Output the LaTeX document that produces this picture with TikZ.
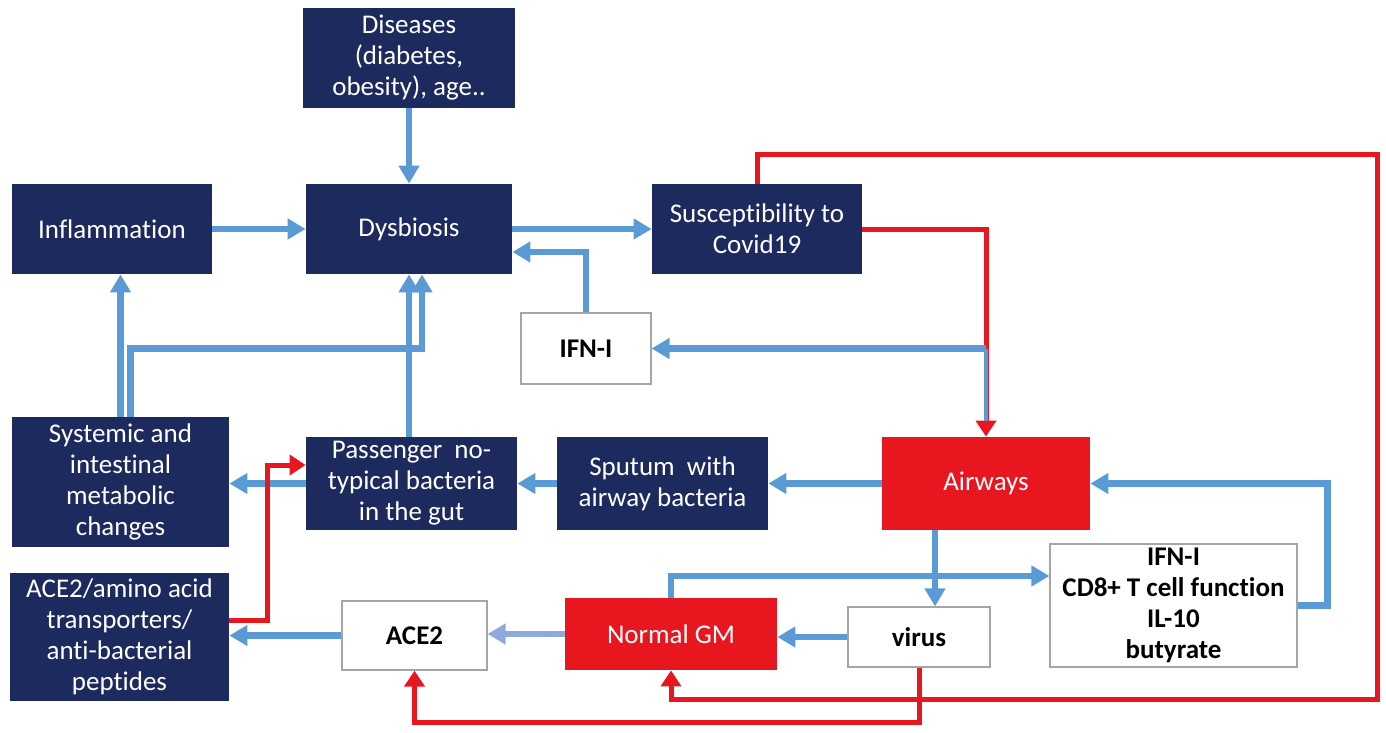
\documentclass[tikz,border=0pt]{standalone}
\usepackage{fontspec}
\setmainfont{Carlito}[Ligatures=NoCommon]
\usepackage{xcolor}
\usetikzlibrary{arrows.meta}
\definecolor{navy}{HTML}{1C2A5E}
\definecolor{gmred}{HTML}{E8161E}
\definecolor{arrblue}{HTML}{5B9BD5}
\definecolor{paleblue}{HTML}{8EA9DB}
\definecolor{boxgray}{HTML}{A5A5A5}

\begin{document}
\begin{tikzpicture}[x=0.5pt,y=-0.5pt,
  font=\fontsize{13.5}{15.5}\selectfont,
  box/.style={rectangle, fill=navy, text=white, align=center, inner sep=0pt},
  redbox/.style={rectangle, fill=gmred, text=white, align=center, inner sep=0pt},
  wbox/.style={rectangle, draw=boxgray, line width=0.6pt, fill=white, align=center, inner sep=0pt, font=\fontsize{13.5}{15.5}\selectfont\bfseries},
  bluearr/.style={draw=arrblue, line width=3.25pt, -{Triangle[width=10pt,length=9pt]}},
  redarr/.style={draw=gmred, line width=2.5pt, -{Triangle[width=10pt,length=8pt]}}]
  \useasboundingbox (0,0) rectangle (1386,733);

  \node[box, minimum width=106pt, minimum height=50pt] (dis) at (409,58) {Diseases\\(diabetes,\\obesity), age..};
  \node[box, minimum width=100pt, minimum height=45pt] (infl) at (112,229) {Inflammation};
  \node[box, minimum width=103pt, minimum height=45pt] (dysb) at (409,229) {Dysbiosis};
  \node[box, minimum width=105pt, minimum height=45pt] (susc) at (757,229) {Susceptibility to\\Covid19};
  \node[wbox, minimum width=65pt, minimum height=35.5pt] (ifn) at (586,348.5) {IFN-I};
  \node[box, minimum width=108.5pt, minimum height=65pt] (syst) at (120.5,482) {Systemic and\\intestinal\\metabolic\\changes};
  \node[box, minimum width=105.5pt, minimum height=46.5pt] (pass) at (411.5,483.5) {Passenger\ \ no-\\typical bacteria\\in the gut};
  \node[box, minimum width=105.5pt, minimum height=46.5pt] (sput) at (662.5,483.5) {Sputum\ \ with\\airway bacteria};
  \node[redbox, minimum width=104pt, minimum height=46.5pt] (airw) at (986,483.5) {Airways};
  \node[box, minimum width=109.5pt, minimum height=64pt] (acea) at (119.5,637) {ACE2/amino acid\\transporters/\\anti-bacterial\\peptides};
  \node[wbox, minimum width=72.5pt, minimum height=34.5pt] (ace) at (414.5,635.5) {ACE2};
  \node[redbox, minimum width=106pt, minimum height=36pt] (ngm) at (671,634) {Normal GM};
  \node[wbox, minimum width=71pt, minimum height=30pt] (vir) at (919,637) {virus};
  \node[wbox, minimum width=123.5pt, minimum height=61.5pt] (cd8) at (1173.5,605.5) {IFN-I\\CD8+ T cell function\\IL-10\\butyrate};

  \draw[bluearr] (dis) -- (dysb);
  \draw[bluearr] (infl) -- (dysb);
  \draw[bluearr] (dysb) -- (susc);
  \draw[bluearr] (ifn.north) |- ([yshift=-11.5pt]dysb.east);
  \draw[redarr] (susc.east) -| (airw.north);
  \draw[bluearr] (airw.north |- ifn.east) -- (ifn.east);
  \draw[draw=arrblue, line width=2.25pt, shorten >=8pt] (airw.north |- ifn.east) -- (airw.north);
  \draw[bluearr] (syst.north) -- (syst.north |- infl.south);
  \draw[bluearr] ([xshift=5pt]syst.north) |- ([xshift=6.5pt]dysb.south |- ifn.west) -- ([xshift=6.5pt]dysb.south);
  \draw[bluearr] ([xshift=-1.25pt]pass.north) -- ([xshift=-1.25pt]pass.north |- dysb.south);
  \draw[bluearr] (pass.west) -- (pass.west -| syst.east);
  \draw[bluearr] (sput) -- (pass);
  \draw[bluearr] (airw) -- (sput);
  \draw[redarr] ([yshift=8.5pt]acea.east) -| ([xshift=-19pt,yshift=9.25pt]pass.west) -- ([yshift=9.25pt]pass.west);
  \draw[bluearr] (ace.west) -- (ace.west -| acea.east);
  \draw[bluearr, draw=paleblue] (ngm.west) -- (ngm.west -| ace.east);
  \draw[bluearr] (vir.west) -- (vir.west -| ngm.east);
  \draw[bluearr] ([xshift=-25.5pt]airw.south) -- ([xshift=-25.5pt]airw.south |- vir.north);
  \draw[bluearr] (ngm.north) |- ([yshift=14.75pt]cd8.west);
  \draw[bluearr] (cd8.east) -- ++(15pt,0pt) |- (airw.east);
  \draw[redarr] (susc.north) -- ++(0pt,14.5pt) -- ++(310pt,0pt) -- ++(0pt,-272.5pt) -| (ngm.south);
  \draw[redarr] (vir.south) -- ++(0pt,-27.5pt) -| (ace.south);
\end{tikzpicture}
\end{document}
